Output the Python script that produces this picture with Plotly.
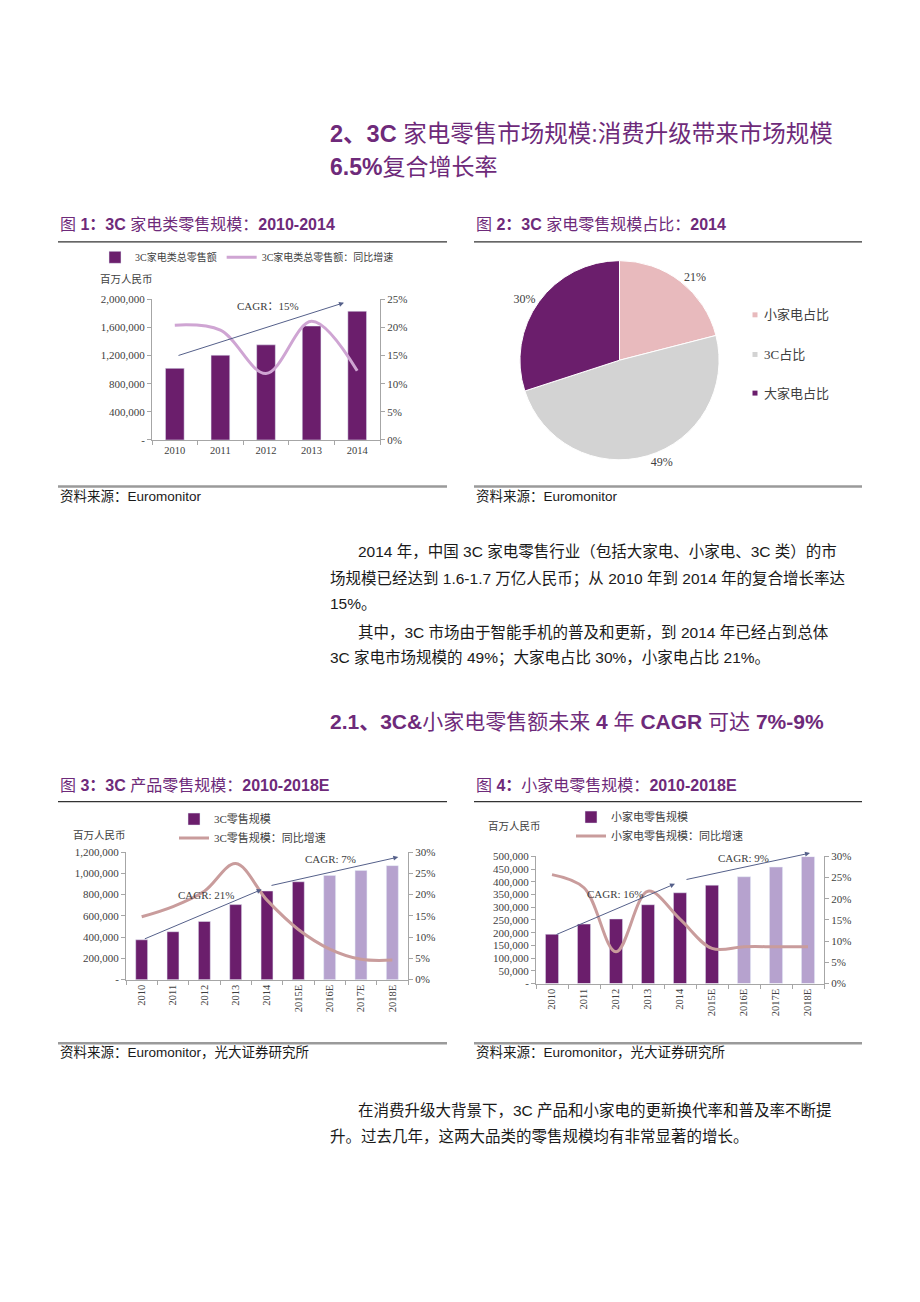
import plotly.graph_objects as go

W, H = 920, 1302


def X(px):
    return px / W


def Y(py):
    return 1 - py / H


# ---------------- data ----------------
years1 = ['2010', '2011', '2012', '2013', '2014']
sales1 = [1018000, 1205000, 1352000, 1620000, 1830000]
growth1 = [20.4, 19.5, 11.8, 21.1, 12.3]
y1_tickvals = [0, 400000, 800000, 1200000, 1600000, 2000000]
y1_ticktext = ['-', '400,000', '800,000', '1,200,000', '1,600,000', '2,000,000']

pie_labels = ['小家电占比', '3C占比', '大家电占比']
pie_values = [21, 49, 30]

years3 = ['2010', '2011', '2012', '2013', '2014', '2015E', '2016E', '2017E', '2018E']
sales3 = [375000, 451000, 548000, 706000, 834000, 921000, 981000, 1028000, 1073000]
growth3 = [14.8, 17.2, 20.8, 27.3, 18.7, 11.8, 7.2, 4.8, 4.6]
y3_tickvals = [0, 200000, 400000, 600000, 800000, 1000000, 1200000]
y3_ticktext = ['-', '200,000', '400,000', '600,000', '800,000', '1,000,000', '1,200,000']

years4 = ['2010', '2011', '2012', '2013', '2014', '2015E', '2016E', '2017E', '2018E']
sales4 = [194000, 234000, 254000, 310000, 357000, 387000, 420000, 458000, 499000]
growth4 = [25.7, 22.6, 7.5, 21.8, 15.2, 8.3, 8.7, 8.7, 8.7]
y4_tickvals = [0, 50000, 100000, 150000, 200000, 250000, 300000, 350000, 400000, 450000, 500000]
y4_ticktext = ['-', '50,000', '100,000', '150,000', '200,000', '250,000', '300,000',
               '350,000', '400,000', '450,000', '500,000']

# ---------------- styles ----------------
TITLE_C = '#6E2A7A'
DARK = '#6B1E6C'
LIGHT = '#B6A2CE'
LINE1_C = '#CFA5D3'
LINE34_C = '#C99C9C'
AXIS_C = '#A6A6A6'
TICK_FONT = dict(family='Liberation Serif, Noto Sans CJK SC', size=11, color='#404040')
SERIF = 'Liberation Serif, Noto Sans CJK SC'
SANS = 'Liberation Sans, Noto Sans CJK SC'
ARROW_C = '#55608A'

fig = go.Figure()

# ---------------- chart 1 ----------------
fig.add_trace(go.Bar(x=years1, y=sales1, name='3C家电类总零售额', marker_color=DARK,
                     width=0.41, xaxis='x', yaxis='y', legend='legend'))
fig.add_trace(go.Scatter(x=years1, y=growth1, name='3C家电类总零售额：同比增速', mode='lines',
                         line=dict(color=LINE1_C, width=3, shape='spline', smoothing=1.0),
                         xaxis='x', yaxis='y2', legend='legend'))

# ---------------- chart 2 (pie) ----------------
fig.add_trace(go.Pie(labels=pie_labels, values=pie_values, sort=False, direction='clockwise',
                     rotation=0, texttemplate='%{value}%', textposition='outside',
                     textfont=dict(family=SERIF, size=12, color='#404040'),
                     marker=dict(colors=['#E8BABD', '#D3D3D3', DARK], line=dict(color='white', width=1)),
                     domain=dict(x=[X(519.5), X(719.5)], y=[Y(458), Y(257)]),
                     showlegend=False, hoverinfo='label+percent'))

# ---------------- chart 3 ----------------
colors3 = [DARK] * 6 + [LIGHT] * 3
fig.add_trace(go.Bar(x=years3, y=sales3, name='3C零售规模', marker_color=colors3,
                     width=0.38, xaxis='x2', yaxis='y3', legend='legend3'))
fig.add_trace(go.Scatter(x=years3, y=growth3, name='3C零售规模：同比增速', mode='lines',
                         line=dict(color=LINE34_C, width=3, shape='spline', smoothing=1.0),
                         xaxis='x2', yaxis='y4', legend='legend3'))

# ---------------- chart 4 ----------------
colors4 = [DARK] * 6 + [LIGHT] * 3
fig.add_trace(go.Bar(x=years4, y=sales4, name='小家电零售规模', marker_color=colors4,
                     width=0.41, xaxis='x3', yaxis='y5', legend='legend4'))
fig.add_trace(go.Scatter(x=years4, y=growth4, name='小家电零售规模：同比增速', mode='lines',
                         line=dict(color=LINE34_C, width=3, shape='spline', smoothing=1.0),
                         xaxis='x3', yaxis='y6', legend='legend4'))


def xax(domain, anchor, angle=0):
    return dict(domain=domain, anchor=anchor, type='category', showline=True, linecolor=AXIS_C,
                linewidth=1, ticks='outside', tickson='boundaries', ticklen=4, tickcolor=AXIS_C,
                tickfont=dict(family=SERIF, size=10.5, color='#404040'), tickangle=angle,
                showgrid=False, zeroline=False, fixedrange=True)


def yax_left(domain, anchor, rng, vals, texts):
    return dict(domain=domain, anchor=anchor, range=rng, tickvals=vals, ticktext=texts,
                showline=True, linecolor=AXIS_C, linewidth=1, ticks='outside', ticklen=4,
                tickcolor=AXIS_C, tickfont=TICK_FONT, showgrid=False, zeroline=False)


def yax_right(overlay, anchor, rng):
    return dict(overlaying=overlay, anchor=anchor, side='right', range=rng, dtick=5,
                ticksuffix='%', showline=True, linecolor=AXIS_C, linewidth=1, ticks='outside',
                ticklen=4, tickcolor=AXIS_C, tickfont=TICK_FONT, showgrid=False, zeroline=False)


layout = dict(
    width=W, height=H, margin=dict(l=0, r=0, t=0, b=0),
    paper_bgcolor='white', plot_bgcolor='white',
    xaxis=xax([X(152), X(380)], 'y'),
    yaxis=yax_left([Y(438), Y(296)], 'x', [0, 2000000], y1_tickvals, y1_ticktext),
    yaxis2=yax_right('y', 'x', [0, 25]),
    xaxis2=xax([X(126), X(408)], 'y3', -90),
    yaxis3=yax_left([Y(982.7), Y(854)], 'x2', [0, 1200000], y3_tickvals, y3_ticktext),
    yaxis4=yax_right('y3', 'x2', [0, 30]),
    xaxis3=xax([X(536), X(824)], 'y5', -90),
    yaxis5=yax_left([Y(986.7), Y(858.3)], 'x3', [0, 500000], y4_tickvals, y4_ticktext),
    yaxis6=yax_right('y5', 'x3', [0, 30]),
    legend=dict(orientation='h', x=X(95), y=Y(239), xanchor='left', yanchor='top',
                font=dict(family=SERIF, size=10, color='#404040'), bgcolor='rgba(0,0,0,0)',
                itemclick=False),
    legend3=dict(orientation='v', x=X(174), y=Y(806), xanchor='left', yanchor='top',
                 font=dict(family=SERIF, size=11, color='#404040'), bgcolor='rgba(0,0,0,0)',
                 tracegroupgap=0),
    legend4=dict(orientation='v', x=X(571), y=Y(804), xanchor='left', yanchor='top',
                 font=dict(family=SERIF, size=11, color='#404040'), bgcolor='rgba(0,0,0,0)',
                 tracegroupgap=0),
    showlegend=True,
)
fig.update_layout(**layout)

annotations = []
shapes = []


def txt(x, y, s, size, color='#1a1a1a', family=SANS, xanchor='left'):
    annotations.append(dict(x=X(x), y=Y(y), xref='paper', yref='paper', text=s, showarrow=False,
                            xanchor=xanchor, yanchor='middle',
                            font=dict(family=family, size=size, color=color)))


def hline(x0, x1, y, color, width):
    shapes.append(dict(type='line', xref='paper', yref='paper', x0=X(x0), x1=X(x1), y0=Y(y), y1=Y(y),
                       line=dict(color=color, width=width)))


def arrow(tx, ty, hx, hy):
    annotations.append(dict(x=X(hx), y=Y(hy), xref='paper', yref='paper', ax=tx - hx, ay=ty - hy,
                            axref='pixel', ayref='pixel', text='', showarrow=True, arrowhead=2,
                            arrowsize=1, arrowwidth=1, arrowcolor=ARROW_C))


# main titles
txt(328, 129, '<b>2、3C</b> 家电零售市场规模:消费升级带来市场规模', 23.5, TITLE_C)
txt(328, 163, '<b>6.5%</b>复合增长率', 23, TITLE_C)

# chart headers
txt(58, 221, '图 <b>1：3C</b> 家电类零售规模：<b>2010-2014</b>', 16, TITLE_C)
txt(474, 221, '图 <b>2：3C</b> 家电零售规模占比：<b>2014</b>', 16, TITLE_C)
txt(58, 787, '图 <b>3：3C</b> 产品零售规模：<b>2010-2018E</b>', 16, TITLE_C)
txt(474, 787, '图 <b>4：</b>小家电零售规模：<b>2010-2018E</b>', 16, TITLE_C)

for (x0, x1, yt, yb) in [(58, 447, 238, 485), (474, 862, 238, 485), (58, 447, 803, 1047), (474, 862, 803, 1047)]:
    hline(x0, x1, yt, '#333333', 1.3)
    hline(x0, x1, yb, '#9A9A9A', 2.5)

# sources
txt(58, 495, '资料来源：Euromonitor', 13.5)
txt(474, 495, '资料来源：Euromonitor', 13.5)
txt(58, 1056, '资料来源：Euromonitor，光大证券研究所', 13.5)
txt(474, 1056, '资料来源：Euromonitor，光大证券研究所', 13.5)

# unit labels
txt(98, 276, '百万人民币', 10.5, '#404040', SERIF)
txt(71, 837.7, '百万人民币', 10.5, '#404040', SERIF)
txt(486, 827.7, '百万人民币', 10.5, '#404040', SERIF)

# CAGR annotations
arrow(177, 352.7, 344, 299.5)
txt(268.3, 302.7, 'CAGR：15%', 11, '#404040', SERIF, 'center')
arrow(143.3, 941.7, 261.7, 891.7)
txt(206.7, 897.7, 'CAGR: 21%', 11, '#404040', SERIF, 'center')
arrow(270, 887.7, 398.3, 859)
txt(330.7, 861, 'CAGR: 7%', 11, '#404040', SERIF, 'center')
arrow(555, 937.3, 675, 886)
txt(615, 896.7, 'CAGR: 16%', 11, '#404040', SERIF, 'center')
arrow(685, 881.7, 810, 855)
txt(743.3, 860, 'CAGR: 9%', 11, '#404040', SERIF, 'center')

# pie legend
pie_colors = ['#E8BABD', '#D3D3D3', DARK]
for lab, col, yy in zip(pie_labels, pie_colors, [311.7, 351.7, 390.7]):
    shapes.append(dict(type='rect', xref='paper', yref='paper', x0=X(752.5), x1=X(757.5),
                       y0=Y(yy + 2.5), y1=Y(yy - 2.5), fillcolor=col, line=dict(width=0)))
    txt(762, yy, lab, 13, '#404040', SERIF)

# body text
BODY = 15.5
txt(356, 551, '2014 年，中国 3C 家电零售行业（包括大家电、小家电、3C 类）的市', BODY)
txt(328, 578, '场规模已经达到 1.6-1.7 万亿人民币；从 2010 年到 2014 年的复合增长率达', BODY)
txt(328, 603, '15%。', BODY)
txt(356, 632, '其中，3C 市场由于智能手机的普及和更新，到 2014 年已经占到总体', BODY)
txt(328, 658, '3C 家电市场规模的 49%；大家电占比 30%，小家电占比 21%。', BODY)

txt(328, 722, '<b>2.1、3C&amp;</b>小家电零售额未来 <b>4</b> 年 <b>CAGR</b> 可达 <b>7%-9%</b>', 21, TITLE_C)

txt(356, 1115, '在消费升级大背景下，3C 产品和小家电的更新换代率和普及率不断提', BODY)
txt(328, 1141, '升。过去几年，这两大品类的零售规模均有非常显著的增长。', BODY)

fig.update_layout(annotations=annotations, shapes=shapes)
fig.write_html('out.html')
